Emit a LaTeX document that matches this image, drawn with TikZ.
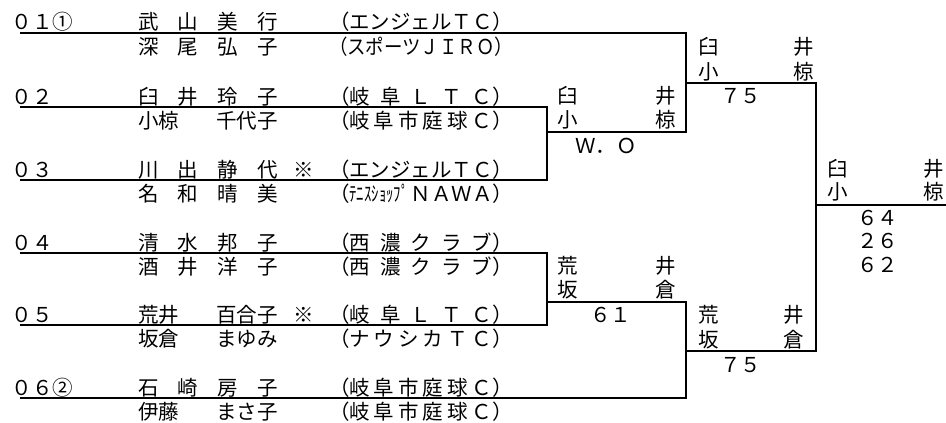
\documentclass[tikz,border=0pt]{standalone}
\usepackage{fontspec}
\setmainfont{Noto Sans CJK JP}
\usepackage{graphicx}
\tikzset{
  txt/.style={anchor=base west, inner sep=0pt, outer sep=0pt, font=\fontsize{20.5pt}{20.5pt}\selectfont},
  bline/.style={line width=1.8pt, line join=miter}
}
\newcommand{\nmbox}[1]{\makebox[140pt][s]{#1}}
\newcommand{\tmbox}[1]{\makebox[184pt][s]{#1}}
\newcommand{\tmfit}[1]{\resizebox{184pt}{\height}{#1}}
\newcommand{\hf}{\hfill{}}
\begin{document}
\begin{tikzpicture}[x=1pt,y=-1pt]
\fill[white] (0,0) rectangle (946,423);
\useasboundingbox (0,0) rectangle (946,423);

% ---------- entries ----------
% row 01
\node[txt] (n1) at (12,30) {０１①};
\node[txt] (p1a) at (138,30) {\nmbox{武\hf{}山\hf{}美\hf{}行}};
\node[txt] (t1a) at (329,30) {\tmfit{（エンジェルＴＣ）}};
\node[txt] (p1b) at (138,54) {\nmbox{深\hf{}尾\hf{}弘\hf{}子}};
\node[txt] (t1b) at (329,54) {\tmfit{（スポーツＪＩＲＯ）}};
% row 02
\node[txt] (n2) at (12,104) {０２};
\node[txt] (p2a) at (138,104) {\nmbox{臼\hf{}井\hf{}玲\hf{}子}};
\node[txt] (t2a) at (329,104) {\tmbox{（岐\hf{}阜\hf{}Ｌ\hf{}Ｔ\hf{}Ｃ）}};
\node[txt] (p2b) at (138,128) {\nmbox{小椋\hf{}千代子}};
\node[txt] (t2b) at (329,128) {\tmbox{（岐\hf{}阜\hf{}市\hf{}庭\hf{}球\hf{}Ｃ）}};
% row 03
\node[txt] (n3) at (12,177) {０３};
\node[txt] (p3a) at (138,177) {\nmbox{川\hf{}出\hf{}静\hf{}代}};
\node[txt] (k3) at (293,177) {※};
\node[txt] (t3a) at (329,177) {\tmfit{（エンジェルＴＣ）}};
\node[txt] (p3b) at (138,201) {\nmbox{名\hf{}和\hf{}晴\hf{}美}};
\node[txt] (t3b) at (329,201) {\tmbox{（\scalebox{0.72}[1]{ﾃﾆｽｼｮｯﾌﾟ}\hf{}ＮＡＷＡ）}};
% row 04
\node[txt] (n4) at (12,250) {０４};
\node[txt] (p4a) at (138,250) {\nmbox{清\hf{}水\hf{}邦\hf{}子}};
\node[txt] (t4a) at (329,250) {\tmbox{（西\hf{}濃\hf{}ク\hf{}ラ\hf{}ブ）}};
\node[txt] (p4b) at (138,274) {\nmbox{酒\hf{}井\hf{}洋\hf{}子}};
\node[txt] (t4b) at (329,274) {\tmbox{（西\hf{}濃\hf{}ク\hf{}ラ\hf{}ブ）}};
% row 05
\node[txt] (n5) at (12,322) {０５};
\node[txt] (p5a) at (138,322) {\nmbox{荒井\hf{}百合子}};
\node[txt] (k5) at (293,322) {※};
\node[txt] (t5a) at (329,322) {\tmbox{（岐\hf{}阜\hf{}Ｌ\hf{}Ｔ\hf{}Ｃ）}};
\node[txt] (p5b) at (138,346) {\nmbox{坂倉\hf{}まゆみ}};
\node[txt] (t5b) at (329,346) {\tmbox{（ナ\hf{}ウ\hf{}シ\hf{}カ\hf{}Ｔ\hf{}Ｃ）}};
% row 06
\node[txt] (n6) at (12,395) {０６②};
\node[txt] (p6a) at (138,395) {\nmbox{石\hf{}崎\hf{}房\hf{}子}};
\node[txt] (t6a) at (329,395) {\tmbox{（岐\hf{}阜\hf{}市\hf{}庭\hf{}球\hf{}Ｃ）}};
\node[txt] (p6b) at (138,419) {\nmbox{伊藤\hf{}まさ子}};
\node[txt] (t6b) at (329,419) {\tmbox{（岐\hf{}阜\hf{}市\hf{}庭\hf{}球\hf{}Ｃ）}};

% ---------- winners and scores ----------
\node[txt] (a1) at (557,103) {臼};
\node[txt] (a2) at (655,103) {井};
\node[txt] (a3) at (557,127) {小};
\node[txt] (a4) at (655,127) {椋};
\node[txt] (s1) at (575,153) {Ｗ．Ｏ};

\node[txt] (b1) at (698,54) {臼};
\node[txt] (b2) at (793,54) {井};
\node[txt] (b3) at (698,79) {小};
\node[txt] (b4) at (793,79) {椋};
\node[txt] (s2) at (720,103) {７５};

\node[txt] (c1) at (557,273) {荒};
\node[txt] (c2) at (655,273) {井};
\node[txt] (c3) at (557,297) {坂};
\node[txt] (c4) at (655,297) {倉};
\node[txt] (s3) at (590,322) {６１};

\node[txt] (d1) at (698,322) {荒};
\node[txt] (d2) at (783,322) {井};
\node[txt] (d3) at (698,347) {坂};
\node[txt] (d4) at (783,347) {倉};
\node[txt] (s4) at (720,372) {７５};

\node[txt] (e1) at (827,176) {臼};
\node[txt] (e2) at (923,176) {井};
\node[txt] (e3) at (827,199) {小};
\node[txt] (e4) at (923,199) {椋};
\node[txt] (s5) at (857,225) {６４};
\node[txt] (s6) at (857,248) {２６};
\node[txt] (s7) at (857,272) {６２};

% ---------- bracket coordinates ----------
\coordinate (r1) at (20,33);
\coordinate (r2) at (20,107);
\coordinate (r3) at (20,180);
\coordinate (r4) at (20,253);
\coordinate (r5) at (20,325);
\coordinate (r6) at (20,398);
\coordinate (q2) at (547,107);
\coordinate (q3) at (547,180);
\coordinate (q23) at (547,132);
\coordinate (q4) at (547,253);
\coordinate (q5) at (547,325);
\coordinate (q45) at (547,302);
\coordinate (u1) at (686,33);
\coordinate (u23) at (686,132);
\coordinate (u123) at (686,83);
\coordinate (u45) at (686,302);
\coordinate (u6) at (686,398);
\coordinate (u456) at (686,351);
\coordinate (f1) at (816,83);
\coordinate (f2) at (816,351);
\coordinate (fw) at (816,205);
\coordinate (fe) at (946,205);

\draw[bline] (r2) -- (q2) -- (q3) -- (r3);
\draw[bline] (q23) -- (u23) -- (u1) -- (r1);
\draw[bline] (r4) -- (q4) -- (q5) -- (r5);
\draw[bline] (q45) -- (u45) -- (u6) -- (r6);
\draw[bline] (u123) -- (f1) -- (f2) -- (u456);
\draw[bline] (fw) -- (fe);
\end{tikzpicture}
\end{document}
